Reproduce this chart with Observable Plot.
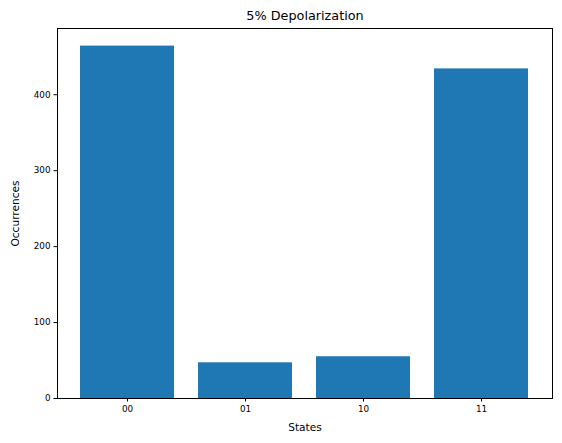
<!DOCTYPE html>
<html>
<head>
<meta charset="utf-8">
<script src="https://cdn.jsdelivr.net/npm/d3@7"></script>
<script src="https://cdn.jsdelivr.net/npm/@observablehq/plot@0.6"></script>
<style>
  html, body { margin: 0; padding: 0; background: #fff; }
  svg { font-family: "DejaVu Sans", sans-serif; color: #000; }
</style>
</head>
<body>
<div id="chart"></div>
<script>
const states = ["00", "01", "10", "11"];
const occurrences = [464, 47, 55, 434];
const yTicks = [0, 100, 200, 300, 400];
const titleText = "5% Depolarization";
const xLabel = "States";
const yLabel = "Occurrences";

const data = states.map((s, i) => ({state: s, count: occurrences[i]}));

const chart = Plot.plot({
  width: 562,
  height: 443,
  marginLeft: 57,
  marginRight: 10,
  marginTop: 28,
  marginBottom: 45,
  style: {fontFamily: "DejaVu Sans, sans-serif", fontSize: "8.8px", color: "#000", background: "#fff"},
  x: {domain: states, paddingInner: 0.2, paddingOuter: 0.19, align: 0.5},
  y: {domain: [0, d3.max(occurrences) * 1.05]},
  marks: [
    Plot.barY(data, {x: "state", y: "count", fill: "#1f77b4"}),
    Plot.axisX({tickSize: 3.5, tickPadding: 3.5, label: null, fontSize: 8.8, stroke: "#000"}),
    Plot.axisY({ticks: yTicks, tickSize: 3.5, tickPadding: 3.5, label: null, fontSize: 8.8, stroke: "#000"}),
    Plot.frame({stroke: "#000", strokeWidth: 1}),
    Plot.text([titleText], {frameAnchor: "top", dy: -12.5, text: d => d, fontSize: 12.8, textAnchor: "middle", lineAnchor: "middle", fill: "#000"}),
    Plot.text([xLabel], {frameAnchor: "bottom", dy: 29, text: d => d, fontSize: 10.6, textAnchor: "middle", lineAnchor: "middle", fill: "#000"}),
    Plot.text([yLabel], {frameAnchor: "left", dx: -42, rotate: -90, text: d => d, fontSize: 10.6, textAnchor: "middle", lineAnchor: "middle", fill: "#000"})
  ]
});
document.getElementById("chart").appendChild(chart);
</script>
</body>
</html>
